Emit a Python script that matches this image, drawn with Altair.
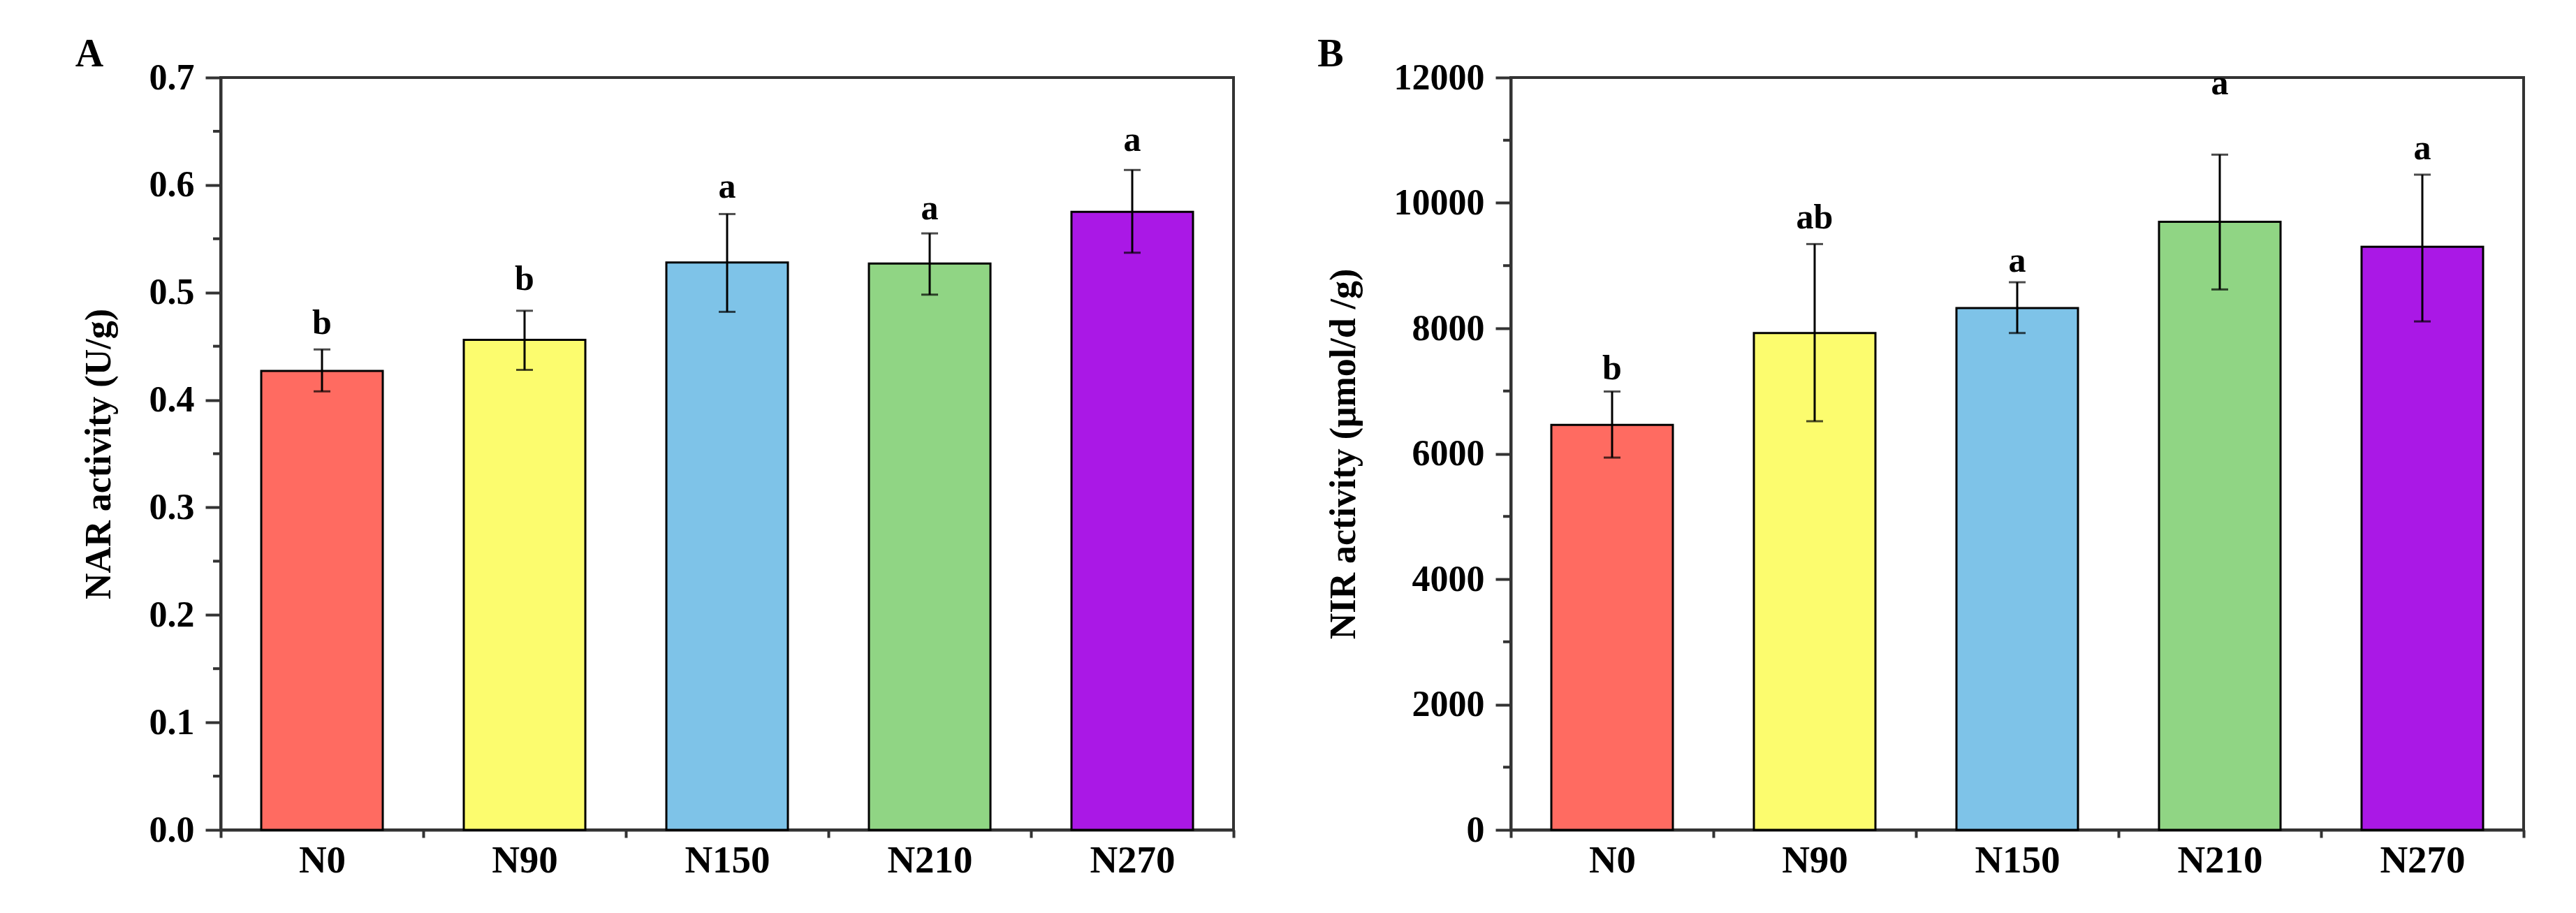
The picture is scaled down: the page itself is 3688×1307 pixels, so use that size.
import altair as alt
import pandas as pd

# ---------------- data ----------------
treatments = ["N0", "N90", "N150", "N210", "N270"]
bar_colors = ["#FF6B61", "#FCFC6E", "#7EC3E8", "#90D584", "#AA18E6"]

nar_mean = [0.427, 0.456, 0.528, 0.527, 0.575]
nar_lo = [0.408, 0.428, 0.482, 0.498, 0.537]
nar_hi = [0.447, 0.483, 0.573, 0.555, 0.614]
nar_letters = ["b", "b", "a", "a", "a"]
nar_letter_y = [0.471, 0.512, 0.598, 0.578, 0.6415]
nar_major = [0.0, 0.1, 0.2, 0.3, 0.4, 0.5, 0.6, 0.7]
nar_minor = [0.05, 0.15, 0.25, 0.35, 0.45, 0.55, 0.65]

nir_mean = [6460, 7925, 8323, 9700, 9300]
nir_lo = [5938, 6518, 7925, 8620, 8110]
nir_hi = [6992, 9344, 8735, 10770, 10451]
nir_letters = ["b", "ab", "a", "a", "a"]
nir_letter_y = [7354, 9766, 9070, 11900, 10864]
nir_major = [0, 2000, 4000, 6000, 8000, 10000, 12000]
nir_minor = [1000, 3000, 5000, 7000, 9000, 11000]

FONT = "Liberation Serif"
W, H = 1450, 1077


def panel(mean, lo, hi, letters, letter_y, major, minor, domain, fmt, ytitle, tag, tag_x):
    df = pd.DataFrame({
        "treatment": treatments,
        "mean": mean,
        "lo": lo,
        "hi": hi,
        "letter": letters,
        "letter_y": letter_y,
    })
    xaxis = alt.Axis(title=None, labelAngle=0, tickBand="extent",
                     tickSize=11, labelPadding=6, labelFontSize=55)
    yaxis = alt.Axis(title=ytitle, values=major, format=fmt,
                     tickSize=22, labelPadding=16, titlePadding=45)
    xscale = alt.Scale(domain=treatments, paddingInner=0, paddingOuter=0)
    yscale = alt.Scale(domain=domain, nice=False, zero=True)
    xs = alt.X("treatment:N", sort=treatments, scale=xscale, axis=xaxis)

    bars = alt.Chart(df).mark_bar(
        width=alt.RelativeBandSize(0.6), stroke="black", strokeWidth=3
    ).encode(
        x=xs,
        y=alt.Y("mean:Q", scale=yscale, axis=yaxis),
        color=alt.Color("treatment:N", scale=alt.Scale(domain=treatments, range=bar_colors),
                        legend=None),
    )
    err = alt.Chart(df).mark_rule(color="black", strokeWidth=3).encode(
        x=xs,
        y=alt.Y("lo:Q", scale=yscale, axis=yaxis),
        y2="hi:Q",
    )
    cap_lo = alt.Chart(df).mark_tick(color="black", thickness=3, size=24).encode(
        x=xs, y=alt.Y("lo:Q", scale=yscale, axis=yaxis))
    cap_hi = alt.Chart(df).mark_tick(color="black", thickness=3, size=24).encode(
        x=xs, y=alt.Y("hi:Q", scale=yscale, axis=yaxis))
    txt = alt.Chart(df).mark_text(
        font=FONT, fontWeight="bold", fontSize=50, color="black", baseline="middle"
    ).encode(
        x=xs, y=alt.Y("letter_y:Q", scale=yscale, axis=yaxis), text="letter:N")

    mdf = pd.DataFrame({"m": minor})
    minor_ticks = alt.Chart(mdf).mark_rule(color="#333333", strokeWidth=4).encode(
        y=alt.Y("m:Q", scale=yscale, axis=yaxis),
        x=alt.value(-11), x2=alt.value(0))

    tdf = pd.DataFrame({"tag": [tag]})
    tag_mark = alt.Chart(tdf).mark_text(
        font=FONT, fontWeight="bold", fontSize=56, color="black", baseline="middle", align="center"
    ).encode(text="tag:N", x=alt.value(tag_x), y=alt.value(-33))

    return alt.layer(bars, err, cap_lo, cap_hi, txt, minor_ticks, tag_mark).properties(
        width=W, height=H)


pa = panel(nar_mean, nar_lo, nar_hi, nar_letters, nar_letter_y, nar_major, nar_minor,
           [0, 0.7], ".1f", "NAR activity (U/g)", "A", -188)
pb = panel(nir_mean, nir_lo, nir_hi, nir_letters, nir_letter_y, nir_major, nir_minor,
           [0, 12000], "d", "NIR activity (μmol/d /g)", "B", -258)

chart = alt.hconcat(pa, pb, spacing=114).properties(
    padding={"left": 97, "top": 40, "right": 10, "bottom": 10},
    background="white",
).configure_view(
    stroke="#333333", strokeWidth=4
).configure_axis(
    labelFont=FONT, labelFontWeight="bold", labelFontSize=52, labelColor="black",
    titleFont=FONT, titleFontWeight="bold", titleFontSize=52, titleColor="black",
    domainColor="#333333", domainWidth=4, tickColor="#333333", tickWidth=4, grid=False,
)

chart.save("out.html", embed_options={"renderer": "svg", "actions": False})
